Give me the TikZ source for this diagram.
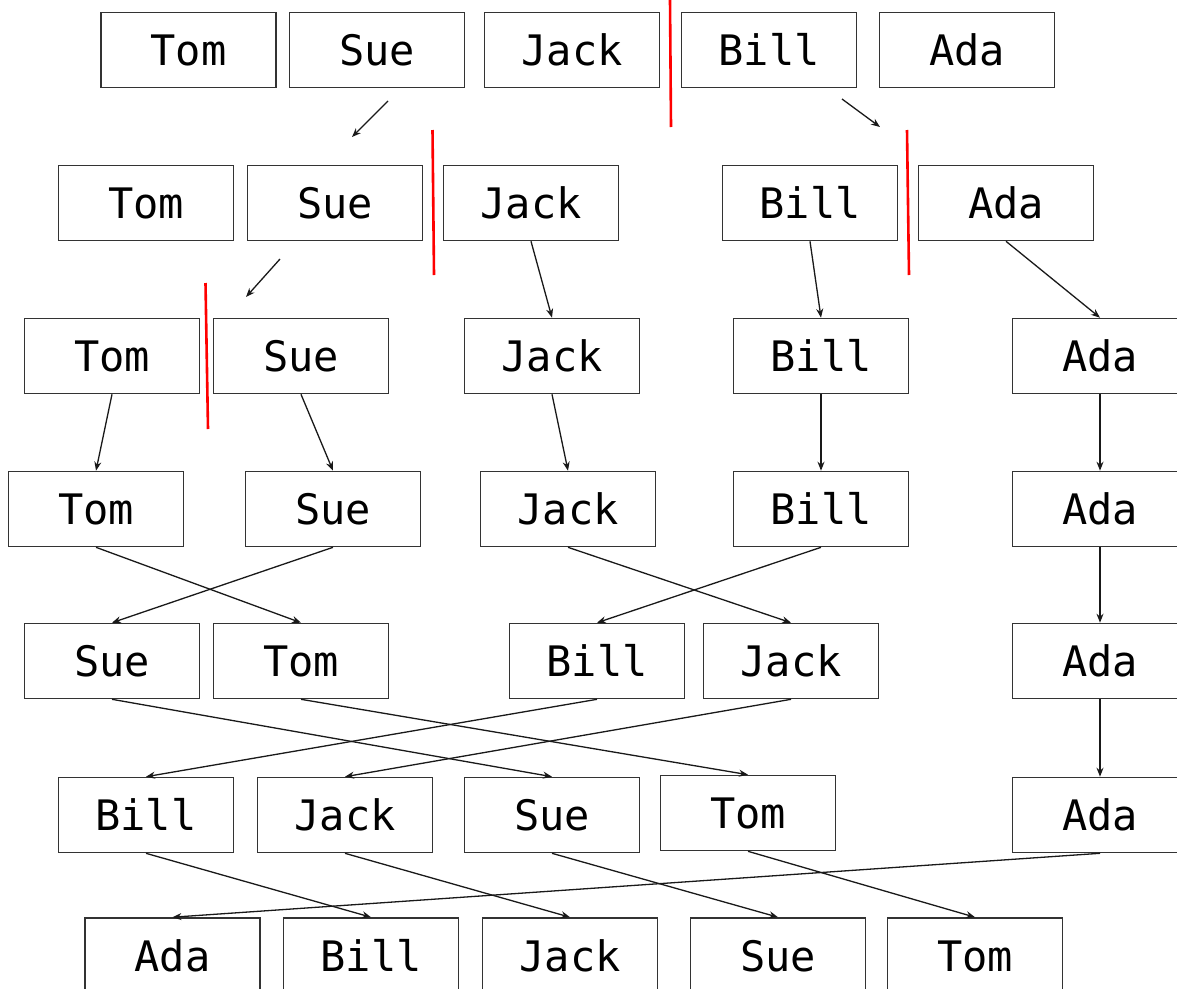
\documentclass[tikz,border=0pt]{standalone}
\usepackage{fontspec}
\newfontfamily\boxmono{DejaVu Sans Mono}
\usetikzlibrary{arrows.meta}
\tikzset{
  namebox/.style={draw=black!80, line width=1.6pt, minimum width=175pt, minimum height=75pt,
    inner sep=0pt, text height=31pt, text depth=0pt,
    font=\boxmono\fontsize{42}{50}\selectfont},
  flow/.style={draw=black!90, line width=1.3pt, -{Stealth[length=9pt,width=7pt]}},
  cut/.style={draw=red, line width=2.6pt},
}
\begin{document}
\begin{tikzpicture}[x=1pt,y=-1pt]
\useasboundingbox (0,0) rectangle (1177,988);
\fill[white] (0,0) rectangle (1177,988);
% row 1
\node[namebox] (a1) at (188.5,50) {Tom};
\node[namebox] (b1) at (377,50) {Sue};
\node[namebox] (c1) at (572,50) {Jack};
\node[namebox] (d1) at (769,50) {Bill};
\node[namebox] (e1) at (967,50) {Ada};
% row 2
\node[namebox] (a2) at (146,203) {Tom};
\node[namebox] (b2) at (335,203) {Sue};
\node[namebox] (c2) at (531,203) {Jack};
\node[namebox] (d2) at (810,203) {Bill};
\node[namebox] (e2) at (1006,203) {Ada};
% row 3
\node[namebox] (a3) at (112,356) {Tom};
\node[namebox] (b3) at (301,356) {Sue};
\node[namebox] (c3) at (552,356) {Jack};
\node[namebox] (d3) at (821,356) {Bill};
\node[namebox] (e3) at (1100,356) {Ada};
% row 4
\node[namebox] (a4) at (96,509) {Tom};
\node[namebox] (b4) at (333,509) {Sue};
\node[namebox] (c4) at (568,509) {Jack};
\node[namebox] (d4) at (821,509) {Bill};
\node[namebox] (e4) at (1100,509) {Ada};
% row 5
\node[namebox] (b5) at (112,661) {Sue};
\node[namebox] (a5) at (301,661) {Tom};
\node[namebox] (d5) at (597,661) {Bill};
\node[namebox] (c5) at (791,661) {Jack};
\node[namebox] (e5) at (1100,661) {Ada};
% row 6
\node[namebox] (d6) at (146,815) {Bill};
\node[namebox] (c6) at (345,815) {Jack};
\node[namebox] (b6) at (552,815) {Sue};
\node[namebox] (a6) at (748,813) {Tom};
\node[namebox] (e6) at (1100,815) {Ada};
% row 7
\node[namebox] (e7) at (172.5,955.5) {Ada};
\node[namebox] (d7) at (371,955.5) {Bill};
\node[namebox] (c7) at (570,955.5) {Jack};
\node[namebox] (b7) at (778,955.5) {Sue};
\node[namebox] (a7) at (975,955.5) {Tom};
% split arrows
\coordinate (s1a) at (388,101); \coordinate (s1b) at (352,137);
\coordinate (s2a) at (842,99);  \coordinate (s2b) at (880,127);
\coordinate (s3a) at (280,259); \coordinate (s3b) at (246,297);
\draw[flow] (s1a) -- (s1b);
\draw[flow] (s2a) -- (s2b);
\draw[flow] (s3a) -- (s3b);
% red cuts
\coordinate (r1a) at (670,0);   \coordinate (r1b) at (671,127);
\coordinate (r2a) at (432.5,130); \coordinate (r2b) at (434,275);
\coordinate (r3a) at (907,130); \coordinate (r3b) at (909,275);
\coordinate (r4a) at (205.5,283); \coordinate (r4b) at (208,429);
\draw[cut] (r1a) -- (r1b);
\draw[cut] (r2a) -- (r2b);
\draw[cut] (r3a) -- (r3b);
\draw[cut] (r4a) -- (r4b);
% row 2 -> 3
\draw[flow] (c2.south) -- (c3.north);
\draw[flow] (d2.south) -- (d3.north);
\draw[flow] (e2.south) -- (e3.north);
% row 3 -> 4
\draw[flow] (a3.south) -- (a4.north);
\draw[flow] (b3.south) -- (b4.north);
\draw[flow] (c3.south) -- (c4.north);
\draw[flow] (d3.south) -- (d4.north);
\draw[flow] (e3.south) -- (e4.north);
% row 4 -> 5
\draw[flow] (a4.south) -- (a5.north);
\draw[flow] (b4.south) -- (b5.north);
\draw[flow] (c4.south) -- (c5.north);
\draw[flow] (d4.south) -- (d5.north);
\draw[flow] (e4.south) -- (e5.north);
% row 5 -> 6
\draw[flow] (b5.south) -- (b6.north);
\draw[flow] (a5.south) -- (a6.north);
\draw[flow] (d5.south) -- (d6.north);
\draw[flow] (c5.south) -- (c6.north);
\draw[flow] (e5.south) -- (e6.north);
% row 6 -> 7
\draw[flow] (d6.south) -- (d7.north);
\draw[flow] (c6.south) -- (c7.north);
\draw[flow] (b6.south) -- (b7.north);
\draw[flow] (a6.south) -- (a7.north);
\draw[flow] (e6.south) -- (e7.north);
\end{tikzpicture}
\end{document}
